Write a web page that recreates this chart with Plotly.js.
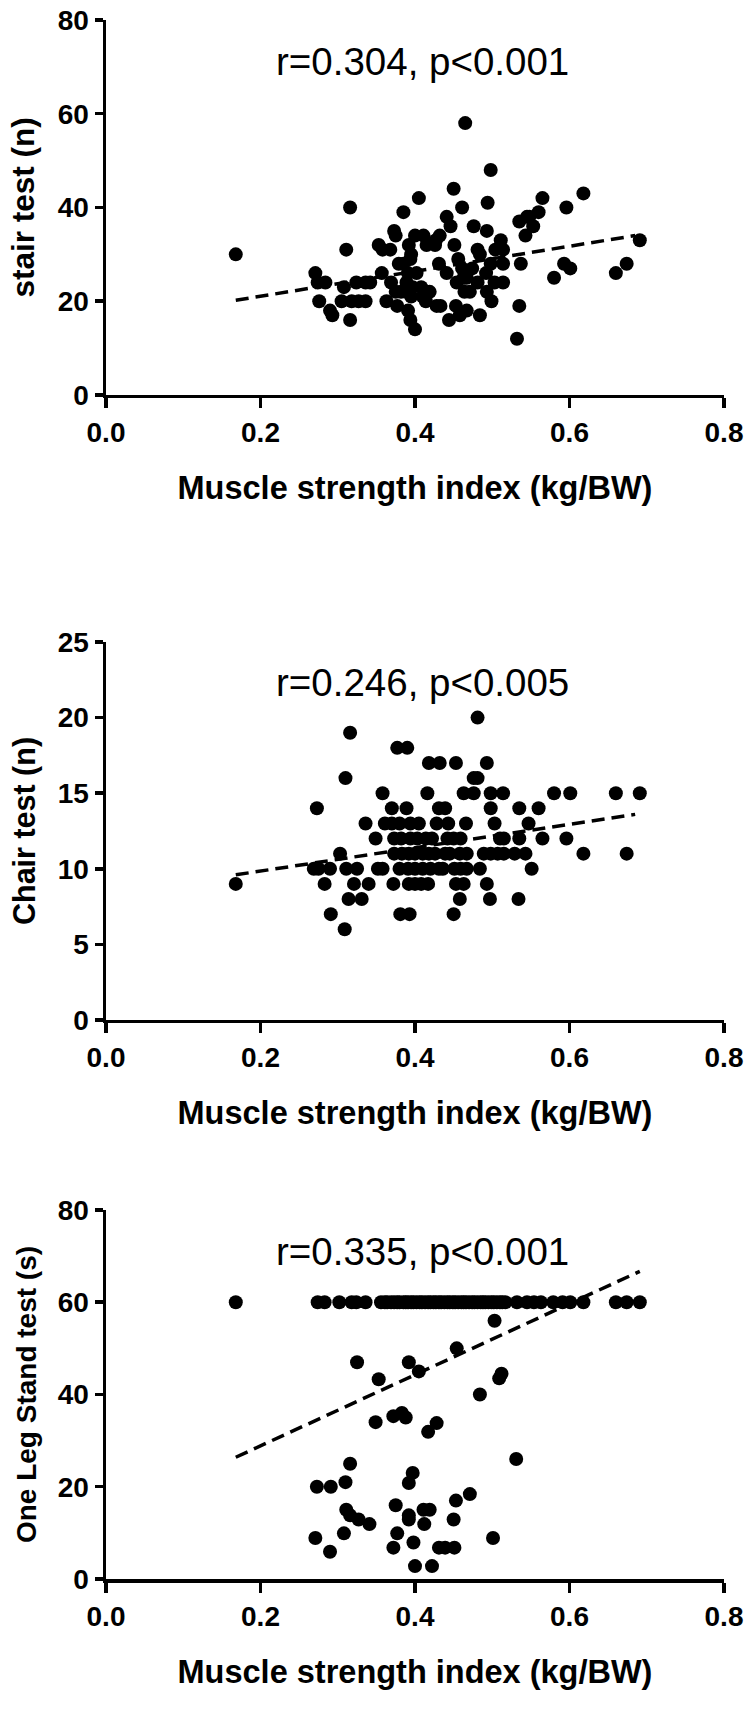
<!DOCTYPE html>
<html><head><meta charset="utf-8">
<script src="https://cdn.plot.ly/plotly-3.0.1.min.js"></script>
<style>body{margin:0;background:#fff}</style>
</head><body><div id="chart" style="width:752px;height:1730px"></div>
<script>
// ---- Panel 1: stair test ----
const stairX = [0.168,0.316,0.311,0.271,0.274,0.284,0.276,0.290,0.293,0.316,0.305,0.318,0.327,0.336,0.308,0.324,0.336,0.342,0.353,0.358,0.363,0.357,0.369,0.373,0.375,0.368,0.385,0.379,0.385,0.375,0.382,0.377,0.391,0.394,0.392,0.395,0.394,0.391,0.400,0.405,0.400,0.411,0.415,0.427,0.432,0.402,0.389,0.397,0.408,0.414,0.414,0.410,0.389,0.395,0.426,0.419,0.431,0.428,0.433,0.441,0.446,0.450,0.451,0.441,0.444,0.453,0.458,0.461,0.465,0.456,0.461,0.454,0.463,0.467,0.467,0.464,0.471,0.476,0.474,0.481,0.484,0.481,0.484,0.494,0.493,0.498,0.492,0.493,0.499,0.498,0.511,0.514,0.504,0.514,0.503,0.514,0.535,0.545,0.548,0.553,0.543,0.537,0.535,0.532,0.560,0.565,0.580,0.596,0.593,0.601,0.618,0.660,0.674,0.691];
const stairY = [30,40,31,26,24,24,20,18,17,16,20,20,20,20,23,24,24,24,32,31,20,26,24,35,34,31,39,28,28,22,22,19,18,16,32,30,29,26,14,42,34,34,32,33,34,26,24,23,23,22,20,21,22,21,32,22,28,19,19,38,36,44,32,26,16,19,17,40,58,29,27,24,25,25,18,22,22,36,27,24,17,31,30,41,35,48,26,22,20,28,33,31,31,28,24,24,37,38,38,36,34,28,19,12,39,42,25,40,28,27,43,26,28,33];
const stairFitX = [0.168, 0.685];
const stairFitY = [20.2, 34.0];

// ---- Panel 2: chair test ----
const chairX = [0.481,
 0.316,
 0.377,0.390,
 0.418,0.432,0.453,0.493,
 0.310,0.476,0.481,
 0.358,0.416,0.463,0.476,0.498,0.514,0.580,0.601,0.660,0.691,
 0.273,0.370,0.389,0.431,0.439,0.498,0.535,0.560,
 0.336,0.361,0.370,0.380,0.394,0.405,0.428,0.443,0.466,0.503,0.547,
 0.349,0.373,0.382,0.394,0.403,0.414,0.422,0.442,0.450,0.459,0.510,0.515,0.535,0.565,0.596,
 0.303,0.373,0.383,0.392,0.400,0.410,0.418,0.426,0.439,0.445,0.458,0.467,0.489,0.498,0.507,0.515,0.529,0.543,0.618,0.674,
 0.269,0.275,0.290,0.311,0.325,0.352,0.358,0.380,0.391,0.400,0.410,0.420,0.431,0.436,0.451,0.459,0.467,0.484,0.551,
 0.168,0.283,0.321,0.340,0.372,0.392,0.400,0.408,0.417,0.453,0.463,0.493,
 0.314,0.331,0.458,0.497,0.534,
 0.291,0.381,0.393,0.450,
 0.309];
const chairY = [20,
 19,
 18,18,
 17,17,17,17,
 16,16,16,
 15,15,15,15,15,15,15,15,15,15,
 14,14,14,14,14,14,14,14,
 13,13,13,13,13,13,13,13,13,13,13,
 12,12,12,12,12,12,12,12,12,12,12,12,12,12,12,
 11,11,11,11,11,11,11,11,11,11,11,11,11,11,11,11,11,11,11,11,
 10,10,10,10,10,10,10,10,10,10,10,10,10,10,10,10,10,10,10,
 9,9,9,9,9,9,9,9,9,9,9,9,
 8,8,8,8,8,
 7,7,7,7,
 6];
const chairFitX = [0.168, 0.685];
const chairFitY = [9.6, 13.6];

// ---- Panel 3: one leg stand test ----
const olsX = [0.168,0.274,0.283,0.302,0.318,0.324,0.336,
 0.356,0.361,0.364,0.369,0.373,0.377,0.380,0.385,0.388,0.391,0.395,0.398,0.402,0.406,0.409,0.413,0.417,0.420,0.424,0.427,0.431,0.434,0.438,0.442,0.445,0.449,0.452,0.456,0.460,0.463,0.466,0.470,0.474,0.477,0.481,0.485,0.488,0.491,0.495,0.499,0.502,0.506,0.510,0.513,0.517,
 0.532,0.545,0.554,0.563,0.579,0.591,0.601,0.618,0.660,0.674,0.691,
 0.503,0.454,0.325,0.392,0.405,0.512,0.509,0.353,0.484,0.349,0.372,0.383,0.388,0.428,0.417,0.531,0.316,0.273,0.291,0.310,0.471,0.453,0.375,0.311,0.316,0.411,0.419,0.392,0.392,0.327,0.341,0.412,0.450,0.308,0.377,0.271,0.501,0.398,0.372,0.431,0.439,0.451,0.290,0.400,0.422,0.392,0.397];
const olsY = [60,60,60,60,60,60,60,
 60,60,60,60,60,60,60,60,60,60,60,60,60,60,60,60,60,60,60,60,60,60,60,60,60,60,60,60,60,60,60,60,60,60,60,60,60,60,60,60,60,60,60,60,60,
 60,60,60,60,60,60,60,60,60,60,60,
 56,50,47,47,45,44.5,43.5,43.3,40,34,35.3,36,35,33.8,31.9,26,25,20,20,21,18.4,17,16,15,13.8,15,15,13.8,12.9,12.9,11.9,11.9,12.9,9.9,9.9,8.9,8.9,7.9,6.8,6.8,6.8,6.8,5.9,2.8,2.8,20.8,23];
const olsFitX = [0.168, 0.691];
const olsFitY = [26.4, 66.7];

const xTickVals = [0, 0.2, 0.4, 0.6, 0.8];
const xTickText = ['0.0', '0.2', '0.4', '0.6', '0.8'];
const stairTicks = [0, 20, 40, 60, 80];
const chairTicks = [0, 5, 10, 15, 20, 25];
const olsTicks = [0, 20, 40, 60, 80];
const xTitleText = 'Muscle strength index (kg/BW)';
const yTitles = ['stair test (n)', 'Chair test (n)', 'One Leg Stand test (s)'];
const statTexts = ['r=0.304, p&lt;0.001', 'r=0.246, p&lt;0.005', 'r=0.335, p&lt;0.001'];

const FONT = 'Liberation Sans, Arial, Helvetica, sans-serif';
const tickFont = {family: FONT, size: 28, color: '#000', weight: 'bold'};
const xTitleFont = {family: FONT, size: 32.5, color: '#000', weight: 'bold'};
const yTitleSizes = [31.5, 30.5, 28];

function pts(x, y, xa, ya) {
  return {x: x, y: y, xaxis: xa, yaxis: ya, type: 'scatter', mode: 'markers',
    marker: {color: '#000', size: 14}, cliponaxis: false, hoverinfo: 'skip'};
}
function fit(x, y, xa, ya) {
  return {x: x, y: y, xaxis: xa, yaxis: ya, type: 'scatter', mode: 'lines',
    line: {color: '#000', width: 3.5, dash: '13px,7px'}, hoverinfo: 'skip'};
}
function xAx(anchor) {
  return {anchor: anchor, domain: [0, 1], range: [0, 0.8], tickvals: xTickVals, ticktext: xTickText,
    showgrid: false, zeroline: false, showline: true, linecolor: '#000', linewidth: 3.5,
    ticks: 'outside', ticklen: 10, tickwidth: 3.5, tickcolor: '#000', tickfont: tickFont,
    title: {text: xTitleText, font: xTitleFont, standoff: 30}};
}
function yAx(anchor, dom, rng, tv, t, ts) {
  return {anchor: anchor, domain: dom, range: rng, tickvals: tv,
    showgrid: false, zeroline: false, showline: true, linecolor: '#000', linewidth: 3.5,
    ticks: 'outside', ticklen: 8, tickwidth: 3.5, tickcolor: '#000', tickfont: tickFont,
    title: {text: t, font: {family: FONT, size: ts, color: '#000', weight: 'bold'}, standoff: 14}};
}

const data = [
  pts(stairX, stairY, 'x', 'y'), fit(stairFitX, stairFitY, 'x', 'y'),
  pts(chairX, chairY, 'x2', 'y2'), fit(chairFitX, chairFitY, 'x2', 'y2'),
  pts(olsX, olsY, 'x3', 'y3'), fit(olsFitX, olsFitY, 'x3', 'y3')
];

const annFont = {family: FONT, size: 38.5, color: '#000'};
const layout = {
  width: 752, height: 1730, showlegend: false,
  paper_bgcolor: '#fff', plot_bgcolor: '#fff',
  margin: {l: 106, r: 28, t: 20, b: 151},
  xaxis: xAx('y'), xaxis2: xAx('y2'), xaxis3: xAx('y3'),
  yaxis: yAx('x', [0.7595, 1], [0, 80], stairTicks, yTitles[0], yTitleSizes[0]),
  yaxis2: yAx('x2', [0.3586, 0.6010], [0, 25], chairTicks, yTitles[1], yTitleSizes[1]),
  yaxis3: yAx('x3', [0, 0.2367], [0, 80], olsTicks, yTitles[2], yTitleSizes[2]),
  annotations: [
    {xref: 'x', yref: 'y', x: 0.41, y: 71.1, text: statTexts[0], showarrow: false, font: annFont},
    {xref: 'x2', yref: 'y2', x: 0.41, y: 22.3, text: statTexts[1], showarrow: false, font: annFont},
    {xref: 'x3', yref: 'y3', x: 0.41, y: 70.9, text: statTexts[2], showarrow: false, font: annFont}
  ]
};
Plotly.newPlot('chart', data, layout, {staticPlot: true, displayModeBar: false});
</script>
</body></html>
